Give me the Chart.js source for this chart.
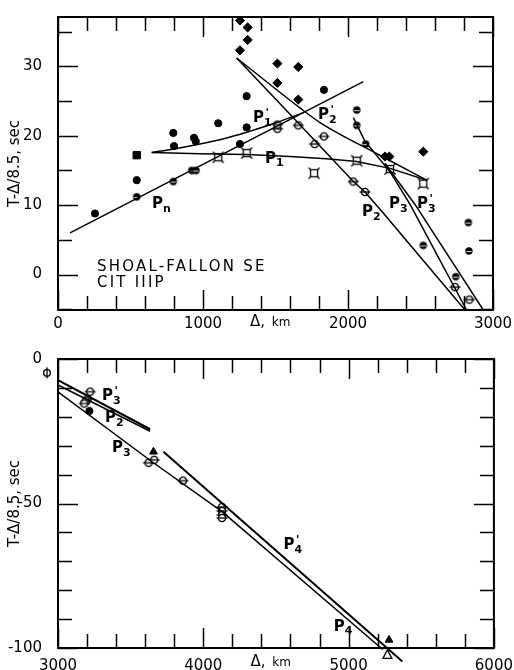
<!DOCTYPE html>
<html><head><meta charset="utf-8">
<script src="https://cdn.jsdelivr.net/npm/chart.js@4/dist/chart.umd.min.js"></script>
<style>
html,body{margin:0;padding:0;background:#fff;width:514px;height:670px;overflow:hidden}
#c1{position:absolute;left:0;top:0}
#c2{position:absolute;left:0;top:335px}
</style></head><body>
<canvas id="c1" width="514" height="335"></canvas>
<canvas id="c2" width="514" height="335"></canvas>
<script>
// ===== TOP PANEL (Δ in km, T-Δ/8.5 in s) =====
const topXTickLabels = [0, 1000, 2000, 3000];
const topYTickLabels = [0, 10, 20, 30];
const topDots = [[255,8.8],[543,13.6],[795,20.4],[800,18.5],[938,19.7],[950,19.2],[1105,21.8],[1255,18.8],[1301,21.2],[1301,25.7],[1834,26.6]];
const topHalfDots = [[543,11.2],[795,13.4],[922,15.0],[952,15.0],[2060,23.7],[2060,21.5],[2122,18.8],[2519,4.2],[2830,7.5],[2834,3.4],[2743,-0.3]];
const topBarRings = [[1513,21.0],[1513,21.6],[1657,21.5],[1770,18.8],[1834,19.9],[2037,13.4],[2117,11.9],[2738,-1.8],[2837,-3.6]];
const topSquares = [[1105,16.9],[1301,17.5],[1766,14.6],[2060,16.4],[2290,15.2],[2519,13.1]];
const topFilledSquares = [[543,17.2]];
const topDiamonds = [[1255,36.6],[1308,35.6],[1308,33.8],[1255,32.3],[1513,30.4],[1657,29.9],[1513,27.6],[1657,25.2],[2255,17.0],[2285,17.0],[2519,17.7]];
const lineTopPn  = [[83,6.0],[2106,27.8]];
const lineTopP1  = [[646,17.6],[979,17.4],[1301,17.3],[1600,17.0],[1850,16.7],[2060,16.3],[2290,15.3],[2543,13.6]];
const lineTopP1p = [[646,17.6],[800,18.1],[979,18.8],[1150,19.6],[1301,20.5],[1508,21.9],[1700,23.4]];
const lineTopP2  = [[1232,31.2],[1600,23.1],[2037,13.4],[2117,11.9],[2221,9.4],[2807,-5.1],[2840,-6.0]];
const lineTopP2p = [[1232,31.2],[1669,24.0],[1807,21.9],[2200,17.4],[2543,13.6]];
const lineTopP3  = [[2037,22.6],[2117,19.2],[2290,14.8],[2428,10.1],[2818,-5.1],[2850,-6.4]];
const lineTopP3p = [[2255,16.0],[2462,10.1],[2933,-5.1],[2960,-6.0]];
const topCurveLabels = [['P','n','',648,10.1],['P','1','\'',1345,22.6],['P','2','\'',1793,22.9],['P','1','',1428,16.7],['P','2','',2097,9.0],['P','3','',2283,10.1],['P','3','\'',2476,10.1]];
const topTexts = [['SHOAL-FALLON SE',269,1.1],['CIT IIIP',269,-1.25]];

// ===== BOTTOM PANEL =====
const botXTickLabels = [3000, 4000, 5000, 6000];
const botYTickLabels = [0, -50, -100];
const botBarRings = [[3221,-11.3],[3203,-13.8],[3192,-14.6],[3181,-15.4],[3623,-35.9],[3662,-34.9],[3860,-42.1],[4129,-51.2],[4129,-52.6],[4129,-54.0],[4129,-55.0]];
const botDots = [[3216,-18.0]];
const botTriangles = [[3657,-32.1],[5278,-97.2]];
const botOutsideRings = [[2924,-4.8]];
const botOutsideOpenTriangles = [[5267,-102.4]];
const lineBotP3p = [[3000,-7.3],[3634,-24.3]];
const lineBotP2  = [[3000,-9.0],[3634,-25.0]];
const lineBotP3  = [[3000,-11.4],[3640,-35.3],[4129,-52.8],[5235,-100.5]];
const lineBotP4p = [[3726,-32.1],[5370,-104.7]];
const botCurveLabels = [['P','3','\'',3303,-13.0],['P','2','',3324,-20.3],['P','3','',3372,-30.7],['P','4','\'',4552,-64.3],['P','4','',4897,-92.6]];

// ===== marker images =====
function mk(size, draw){const c=document.createElement('canvas');c.width=c.height=size;const g=c.getContext('2d');g.translate(size/2,size/2);draw(g);return c;}
const ringBar = mk(14,g=>{g.lineWidth=1.3;g.strokeStyle='#000';g.fillStyle='#fff';g.beginPath();g.arc(0,0,3.6,0,Math.PI*2);g.fill();g.stroke();g.beginPath();g.moveTo(-5.5,0);g.lineTo(5.5,0);g.stroke();});
const ringBarV = mk(14,g=>{g.lineWidth=1.3;g.strokeStyle='#000';g.fillStyle='#fff';g.beginPath();g.arc(0,0,3.4,0,Math.PI*2);g.fill();g.stroke();g.beginPath();g.moveTo(0,-5.5);g.lineTo(0,5.5);g.stroke();});
const halfDot = mk(12,g=>{g.fillStyle='#000';g.beginPath();g.arc(0,0,3.7,0,Math.PI*2);g.fill();g.strokeStyle='#fff';g.lineWidth=0.9;g.beginPath();g.moveTo(-2.6,0.6);g.lineTo(2.6,0.6);g.stroke();});
const sqSym = mk(16,g=>{g.strokeStyle='#000';g.lineWidth=1.3;g.fillStyle='#fff';g.fillRect(-3.5,-3.5,7,7);g.strokeRect(-3.5,-3.5,7,7);g.beginPath();[[-1,-1],[1,-1],[-1,1],[1,1]].forEach(([a,b])=>{g.moveTo(3.5*a,3.5*b);g.lineTo(5.5*a,5.5*b);});g.stroke();});

const pts = arr => arr.map(([x,y])=>({x,y}));
function lineDs(arr, opts){return Object.assign({data:pts(arr),showLine:true,pointRadius:0,borderColor:'#000',borderWidth:1.5,fill:false,tension:0},opts||{});}
function ptDs(arr, style, r, opts){return Object.assign({data:pts(arr),showLine:false,pointStyle:style,pointRadius:r,backgroundColor:'#000',borderColor:'#000',borderWidth:1},opts||{});}

function makeDecor(cfg){
  return {
    id:'decor',
    afterDatasetsDraw(chart){
      const ctx=chart.ctx,a=chart.chartArea,xs=chart.scales.x,ys=chart.scales.y;
      ctx.save();
      (cfg.outsideRings||[]).forEach(([x,y])=>{ctx.drawImage(ringBarV,xs.getPixelForValue(x)-7,ys.getPixelForValue(y)-7);});
      (cfg.outsideOpenTri||[]).forEach(([x,y])=>{const px=xs.getPixelForValue(x),py=ys.getPixelForValue(y);ctx.beginPath();ctx.moveTo(px,py-5);ctx.lineTo(px+4.5,py+3.5);ctx.lineTo(px-4.5,py+3.5);ctx.closePath();ctx.fillStyle='#fff';ctx.fill();ctx.strokeStyle='#000';ctx.lineWidth=1.3;ctx.stroke();});
      ctx.strokeStyle='#000';ctx.lineWidth=1.5;ctx.beginPath();
      xs.ticks.forEach(t=>{const p=Math.round(xs.getPixelForValue(t.value))+0.5;const L=cfg.xLabels.includes(t.value)?20:14;ctx.moveTo(p,a.top);ctx.lineTo(p,a.top+L);ctx.moveTo(p,a.bottom);ctx.lineTo(p,a.bottom-L);});
      ys.ticks.forEach(t=>{const p=Math.round(ys.getPixelForValue(t.value))+0.5;const L=cfg.yLabels.includes(t.value)?20:14;ctx.moveTo(a.left,p);ctx.lineTo(a.left+L,p);ctx.moveTo(a.right,p);ctx.lineTo(a.right-L,p);});
      ctx.stroke();
      ctx.lineWidth=2;ctx.strokeRect(a.left,a.top,a.right-a.left,a.bottom-a.top);
      ctx.fillStyle='#000';ctx.textBaseline='middle';ctx.textAlign='left';
      cfg.curveLabels.forEach(([m,sub,sup,x,y])=>{
        const px=xs.getPixelForValue(x),py=ys.getPixelForValue(y);
        ctx.font='bold 15px "DejaVu Sans"';ctx.fillText(m,px,py);const w=ctx.measureText(m).width;
        ctx.font='bold 11px "DejaVu Sans"';if(sub)ctx.fillText(sub,px+w,py+5);if(sup)ctx.fillText(sup,px+w+1.5,py-5);
      });
      (cfg.texts||[]).forEach(([s,x,y])=>{ctx.font='15px "DejaVu Sans"';ctx.letterSpacing='2.2px';ctx.fillText(s,xs.getPixelForValue(x),ys.getPixelForValue(y));});
      ctx.letterSpacing='0px';
      const tx=xs.getPixelForValue(cfg.xTitleAt), ty=a.bottom+cfg.xTitleDy;
      ctx.font='15px "DejaVu Sans"';ctx.fillText('Δ,',tx,ty);const w2=ctx.measureText('Δ, ').width;
      ctx.font='12px "DejaVu Sans"';ctx.fillText('km',tx+w2+2,ty+1);
      ctx.restore();
    }
  };
}

Chart.defaults.font.family='"DejaVu Sans"';
Chart.defaults.color='#000';

function build(canvasId, c){
  return new Chart(document.getElementById(canvasId),{
    type:'scatter',
    data:{datasets:c.datasets},
    options:{
      responsive:false,animation:false,devicePixelRatio:1,events:[],
      layout:{padding:{top:c.padTop,right:c.padRight,left:0,bottom:0}},
      plugins:{legend:{display:false},tooltip:{enabled:false}},
      scales:{
        x:{type:'linear',min:c.xMin,max:c.xMax,grid:{display:false},border:{display:false},
           afterFit:s=>{s.height=c.xAxisH;},
           ticks:{stepSize:200,autoSkip:false,maxRotation:0,includeBounds:false,padding:c.xPad,font:{size:15},
                  callback:v=>c.xLabels.includes(v)?String(v):''}},
        y:{type:'linear',min:c.yMin,max:c.yMax,grid:{display:false},border:{display:false},
           afterFit:s=>{s.width=58;},
           title:{display:true,text:'T-Δ/8.5, sec',font:{size:15},padding:{top:6,bottom:0}},
           ticks:{stepSize:c.yStep,autoSkip:false,includeBounds:false,padding:8,font:{size:15},
                  callback:v=>c.yLabels.includes(v)?String(v):''}}
      }
    },
    plugins:[makeDecor(c)]
  });
}

build('c1',{
  xMin:0,xMax:3000,yMin:-5.1,yMax:37.1,yStep:5,padTop:6,padRight:21,xAxisH:25,xPad:-3,
  xLabels:topXTickLabels,yLabels:topYTickLabels,curveLabels:topCurveLabels,texts:topTexts,
  xTitleAt:1324,xTitleDy:12,
  datasets:[
    lineDs(lineTopPn),lineDs(lineTopP1),lineDs(lineTopP1p,{tension:0.4,cubicInterpolationMode:'monotone'}),
    lineDs(lineTopP2),lineDs(lineTopP2p,{cubicInterpolationMode:'monotone'}),lineDs(lineTopP3),lineDs(lineTopP3p),
    ptDs(topDots,'circle',3.6),
    ptDs(topHalfDots,halfDot,4),
    ptDs(topBarRings,ringBar,4),
    ptDs(topSquares,sqSym,4),
    ptDs(topFilledSquares,'rect',5.2),
    ptDs(topDiamonds,'rectRot',4.6)
  ]
});

build('c2',{
  xMin:3000,xMax:6000,yMin:-100,yMax:0,yStep:10,padTop:24,padRight:19,xAxisH:22,xPad:1,
  xLabels:botXTickLabels,yLabels:botYTickLabels,curveLabels:botCurveLabels,
  outsideRings:botOutsideRings,outsideOpenTri:botOutsideOpenTriangles,
  xTitleAt:4324,xTitleDy:14,
  datasets:[
    lineDs(lineBotP3p,{borderWidth:2.2,clip:false}),lineDs(lineBotP2,{clip:false}),
    lineDs(lineBotP3,{clip:false}),lineDs(lineBotP4p,{borderWidth:2,clip:false}),
    ptDs(botBarRings,ringBar,4),
    ptDs(botDots,'circle',3.6),
    ptDs(botTriangles,'triangle',4.5)
  ]
});
</script>
</body></html>
